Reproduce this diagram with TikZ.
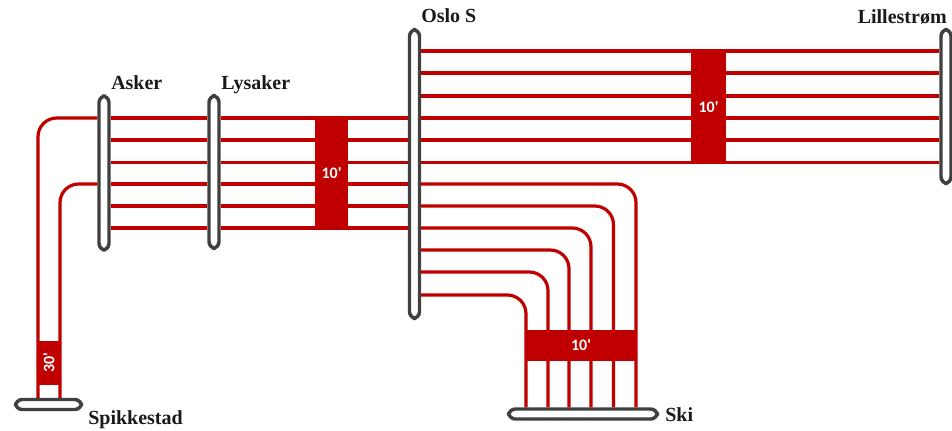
\documentclass[tikz,border=0pt]{standalone}
\usepackage{fontspec}
\setmainfont{Liberation Serif}
\newfontfamily\blockfont{Carlito}
\usepackage{tikz}
\definecolor{railred}{RGB}{192,0,0}
\definecolor{bargrey}{RGB}{64,64,64}
\tikzset{
  railline/.style={draw=railred,line width=2.4pt},
  railbend/.style={railline,rounded corners=14pt},
  stationbar/.style={draw=bargrey,fill=white,line width=2.6pt,rounded corners=5pt,inner sep=0pt},
  timeblock/.style={fill=railred,text=white,font=\blockfont\bfseries\fontsize{12}{14}\selectfont,inner sep=0pt,outer sep=0pt},
  stationname/.style={anchor=base west,inner sep=0pt,font=\bfseries\fontsize{15}{17}\selectfont,text=black!90}
}

\begin{document}
\begin{tikzpicture}[x=0.75pt,y=0.75pt,yscale=-1,xscale=1]
\useasboundingbox (0,0) rectangle (952,430);

%Station Bars
\node[stationbar,minimum width=7.5pt,minimum height=115.5pt] (asker) at (104,173) {};
\node[stationbar,minimum width=7.5pt,minimum height=114.5pt] (lysaker) at (214,172) {};
\node[stationbar,minimum width=7.5pt,minimum height=216.5pt] (oslo) at (414.5,174) {};
\node[stationbar,minimum width=7.5pt,minimum height=115.5pt] (lillestrom) at (946,106.5) {};
\node[stationbar,minimum width=49.5pt,minimum height=7.5pt] (spikkestad) at (48.5,404.5) {};
\node[stationbar,minimum width=111.5pt,minimum height=7.5pt] (ski) at (583,414) {};

%Curve Lines to Spikkestad
\draw[railbend] (asker.west |- 0,118) -| (38,0 |- spikkestad.north);
\draw[railbend] (asker.west |- 0,184) -| (60,0 |- spikkestad.north);

%Straight Lines Asker to Lysaker
\draw[railline] (asker.east |- 0,118) -- (lysaker.west |- 0,118);
\draw[railline] (asker.east |- 0,140) -- (lysaker.west |- 0,140);
\draw[railline] (asker.east |- 0,162.5) -- (lysaker.west |- 0,162.5);
\draw[railline] (asker.east |- 0,184) -- (lysaker.west |- 0,184);
\draw[railline] (asker.east |- 0,206) -- (lysaker.west |- 0,206);
\draw[railline] (asker.east |- 0,228) -- (lysaker.west |- 0,228);

%Straight Lines Lysaker to Oslo S
\draw[railline] (lysaker.east |- 0,118) -- (oslo.west |- 0,118);
\draw[railline] (lysaker.east |- 0,140) -- (oslo.west |- 0,140);
\draw[railline] (lysaker.east |- 0,162.5) -- (oslo.west |- 0,162.5);
\draw[railline] (lysaker.east |- 0,184) -- (oslo.west |- 0,184);
\draw[railline] (lysaker.east |- 0,206) -- (oslo.west |- 0,206);
\draw[railline] (lysaker.east |- 0,228) -- (oslo.west |- 0,228);

%Straight Lines Oslo S to Lillestrom
\draw[railline] (oslo.east |- 0,51) -- (lillestrom.west |- 0,51);
\draw[railline] (oslo.east |- 0,73) -- (lillestrom.west |- 0,73);
\draw[railline] (oslo.east |- 0,96) -- (lillestrom.west |- 0,96);
\draw[railline] (oslo.east |- 0,118) -- (lillestrom.west |- 0,118);
\draw[railline] (oslo.east |- 0,140) -- (lillestrom.west |- 0,140);
\draw[railline] (oslo.east |- 0,162.5) -- (lillestrom.west |- 0,162.5);

%Curve Lines Oslo S to Ski
\draw[railbend] (oslo.east |- 0,184) -| (636,0 |- ski.north);
\draw[railbend] (oslo.east |- 0,206) -| (613.5,0 |- ski.north);
\draw[railbend] (oslo.east |- 0,228) -| (591,0 |- ski.north);
\draw[railbend] (oslo.east |- 0,250) -| (569,0 |- ski.north);
\draw[railbend] (oslo.east |- 0,272) -| (548,0 |- ski.north);
\draw[railbend] (oslo.east |- 0,295) -| (526,0 |- ski.north);

%Time Blocks
\node[timeblock,minimum width=24.75pt,minimum height=83.5pt] (blockwest) at (331.5,173) {10'};
\node[timeblock,minimum width=26pt,minimum height=83.5pt] (blocknorth) at (708.5,107) {10'};
\node[timeblock,minimum width=84pt,minimum height=23.5pt] (blockski) at (581,345.5) {10'};
\node[timeblock,rotate=90,minimum width=33pt,minimum height=18pt] (blockspikkestad) at (49,363) {30'};

% Text Node
\node[stationname] (askername) at (111,89) {Asker};
% Text Node
\node[stationname] (lysakername) at (221,89) {Lysaker};
% Text Node
\node[stationname] (osloname) at (421,22) {Oslo S};
% Text Node
\node[stationname] (lillestromname) at (857.5,23) {Lillestrøm};
% Text Node
\node[stationname] (spikkestadname) at (88,424) {Spikkestad};
% Text Node
\node[stationname] (skiname) at (665,421) {Ski};

\end{tikzpicture}
\end{document}
